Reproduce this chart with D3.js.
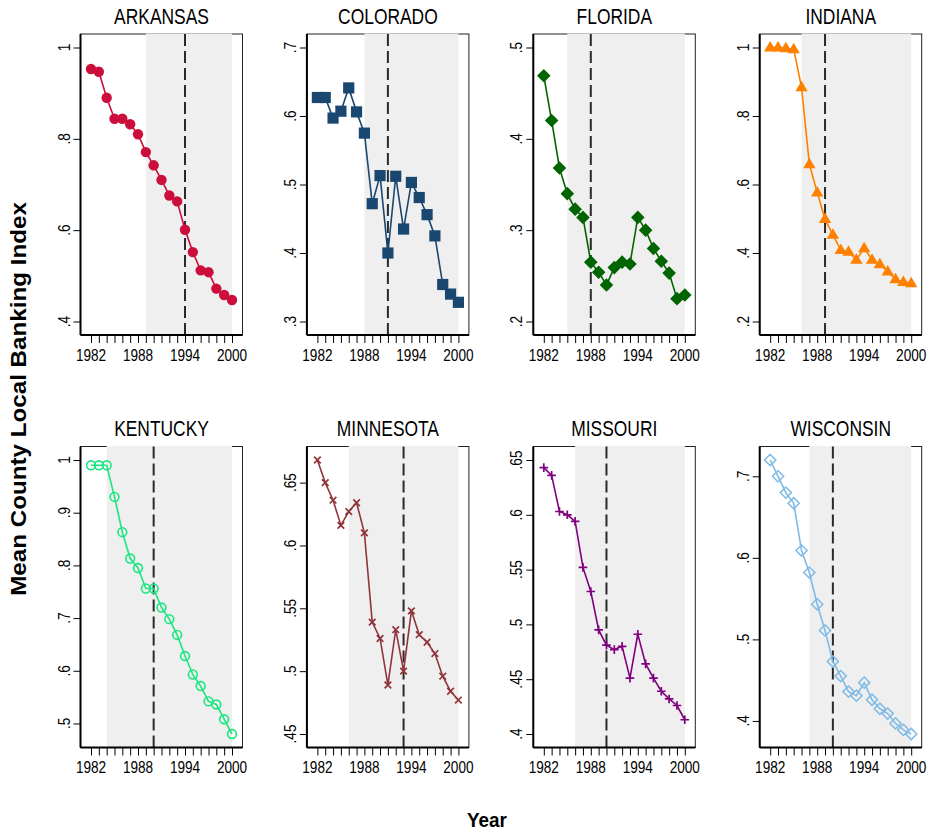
<!DOCTYPE html>
<html><head><meta charset="utf-8">
<script src="https://cdn.jsdelivr.net/npm/d3@7"></script>
<style>body{margin:0;background:#fff;} text{font-family:"Liberation Sans",Arial,sans-serif;}</style>
</head><body>
<svg id="chart" width="927" height="832"></svg>
<script>
const years = d3.range(1982, 2001);
const states = ["ARKANSAS","COLORADO","FLORIDA","INDIANA","KENTUCKY","MINNESOTA","MISSOURI","WISCONSIN"];
const arkansas  = [.953,.947,.890,.844,.844,.832,.810,.771,.742,.710,.676,.663,.601,.552,.512,.508,.472,.458,.447];
const colorado  = [.627,.627,.597,.607,.641,.606,.575,.472,.513,.400,.512,.435,.503,.481,.456,.425,.354,.340,.328];
const florida   = [.469,.420,.368,.340,.323,.314,.265,.254,.240,.259,.265,.263,.314,.300,.280,.266,.253,.225,.229];
const indiana   = [1.0,1.0,.998,.995,.884,.659,.577,.499,.453,.409,.404,.380,.414,.380,.367,.346,.323,.315,.312];
const kentucky  = [.990,.990,.990,.930,.863,.813,.795,.756,.756,.720,.698,.668,.628,.593,.571,.542,.536,.508,.480];
const minnesota = [.668,.650,.636,.616,.627,.634,.610,.539,.526,.489,.533,.500,.548,.529,.523,.514,.496,.484,.477];
const missouri  = [.643,.636,.603,.600,.594,.552,.530,.495,.481,.477,.480,.451,.491,.464,.451,.439,.432,.426,.413];
const wisconsin = [.720,.700,.680,.667,.609,.582,.543,.511,.473,.455,.436,.431,.447,.426,.415,.409,.397,.389,.384];
const yTicks = [[.4,.6,.8,1],[.3,.4,.5,.6,.7],[.2,.3,.4,.5],[.2,.4,.6,.8,1],
                [.5,.6,.7,.8,.9,1],[.45,.5,.55,.6,.65],[.4,.45,.5,.55,.6,.65],[.4,.5,.6,.7]];
const shadeStart = [1989,1988,1985,1986,1984,1986,1986,1987];
const policyYear = [1994,1991,1988,1989,1990,1993,1990,1990];
const xTickLabels = [1982,1988,1994,2000];
const colors = ["#cc0e3d","#1a476f","#006400","#ff8000","#1ce680","#90353b","#800080","#7fbbe6"];
const markers = ["circle","square","diamond","triangle","ocircle","x","plus","odiamond"];
const series = [arkansas,colorado,florida,indiana,kentucky,minnesota,missouri,wisconsin];

const svg = d3.select("#chart");
const NX = 0.8; // narrow font factor
const colX0 = 91, colStep = 226.4, dataW = 141, padX = 10.5;
const rowY0 = [47.5, 460], dataH = 274, padY = 13.5;

function fmt(v){ let s = d3.format("")(+v.toFixed(2)); return s.replace(/^0\./,"."); }

function markerPath(type, x, y){
  switch(type){
    case "square": { const s=5.6; return `M${x-s},${y-s}h${2*s}v${2*s}h${-2*s}Z`; }
    case "diamond": { const s=6.8; return `M${x},${y-s}L${x+s},${y}L${x},${y+s}L${x-s},${y}Z`; }
    case "odiamond": { const s=5.6; return `M${x},${y-s}L${x+s},${y}L${x},${y+s}L${x-s},${y}Z`; }
    case "triangle": { const w=6.2; return `M${x},${y-6.5}L${x+w},${y+4}L${x-w},${y+4}Z`; }
    case "x": { const s=3.3; return `M${x-s},${y-s}L${x+s},${y+s}M${x-s},${y+s}L${x+s},${y-s}`; }
    case "plus": { const s=4.3; return `M${x-s},${y}L${x+s},${y}M${x},${y-s}L${x},${y+s}`; }
  }
  return null;
}

states.forEach((name, i) => {
  const col = i % 4, row = Math.floor(i / 4);
  const x0 = colX0 + col * colStep, y0 = rowY0[row];
  const vals = series[i];
  const ticks = yTicks[i];
  const lo = Math.min(d3.min(vals), d3.min(ticks)), hi = Math.max(d3.max(vals), d3.max(ticks));
  const x = d3.scaleLinear().domain([1982, 2000]).range([x0, x0 + dataW]);
  const y = d3.scaleLinear().domain([lo, hi]).range([y0 + dataH, y0]);
  const fx0 = x0 - padX, fx1 = x0 + dataW + padX, fy0 = y0 - padY, fy1 = y0 + dataH + padY;
  const g = svg.append("g");

  g.append("rect").attr("x", fx0).attr("y", fy0).attr("width", fx1 - fx0).attr("height", fy1 - fy0)
    .attr("fill", "none").attr("stroke", "#222").attr("stroke-width", 1);
  g.append("rect").attr("x", x(shadeStart[i])).attr("y", fy0 - 0.5)
    .attr("width", x(2000) - x(shadeStart[i])).attr("height", fy1 - fy0)
    .attr("fill", "#efefef");
  g.append("line").attr("x1", x(policyYear[i])).attr("x2", x(policyYear[i]))
    .attr("y1", fy0).attr("y2", fy1).attr("stroke", "#2a2a2a").attr("stroke-width", 2)
    .attr("stroke-dasharray", "12,5");

  const xAxis = d3.axisBottom(x).tickValues(years).tickSize(8).tickFormat("");
  const xa = g.append("g").attr("transform", `translate(0,${fy1})`).call(xAxis);
  xa.select(".domain").attr("d", `M${fx0},0H${fx1}`).attr("stroke", "#000").attr("stroke-width", 2);
  xa.selectAll(".tick line").attr("stroke", "#000").attr("stroke-width", 1);
  g.selectAll(".xlab").data(xTickLabels).enter().append("text")
    .attr("transform", d => `translate(${x(d)},${fy1 + 25.5}) scale(${NX},1)`)
    .attr("text-anchor", "middle").attr("font-size", 17).attr("fill", "#000").text(d => d);

  const yAxis = d3.axisLeft(y).tickValues(ticks).tickSize(7).tickFormat("");
  const ya = g.append("g").attr("transform", `translate(${fx0},0)`).call(yAxis);
  ya.select(".domain").attr("d", `M0,${fy0}V${fy1}`).attr("stroke", "#000").attr("stroke-width", 2);
  ya.selectAll(".tick line").attr("stroke", "#000").attr("stroke-width", 1);
  g.selectAll(".ylab").data(ticks).enter().append("text")
    .attr("transform", d => `translate(${fx0 - 11},${y(d)}) rotate(-90) scale(${NX},1)`)
    .attr("text-anchor", "middle").attr("font-size", 17).attr("fill", "#000").text(d => fmt(d));

  g.append("text").attr("transform", `translate(${(fx0 + fx1) / 2},${fy0 - 10.5}) scale(0.81,1)`)
    .attr("text-anchor", "middle").attr("font-size", 21.5).attr("fill", "#000").text(name);

  const pts = years.map((yr, k) => [yr, vals[k]]);
  g.append("path").datum(pts)
    .attr("d", d3.line().x(d => x(d[0])).y(d => y(d[1])))
    .attr("fill", "none").attr("stroke", colors[i]).attr("stroke-width", 1.6);

  const m = markers[i], c = colors[i];
  pts.forEach(d => {
    const px = x(d[0]), py = y(d[1]);
    if (m === "circle") {
      g.append("circle").attr("cx", px).attr("cy", py).attr("r", 5.2).attr("fill", c);
    } else if (m === "ocircle") {
      g.append("circle").attr("cx", px).attr("cy", py).attr("r", 4.4).attr("fill", "none")
        .attr("stroke", c).attr("stroke-width", 1.6);
    } else if (m === "odiamond") {
      g.append("path").attr("d", markerPath(m, px, py)).attr("fill", "none").attr("stroke", c).attr("stroke-width", 1.5);
    } else if (m === "x" || m === "plus") {
      g.append("path").attr("d", markerPath(m, px, py)).attr("fill", "none").attr("stroke", c).attr("stroke-width", 1.7);
    } else {
      g.append("path").attr("d", markerPath(m, px, py)).attr("fill", c);
    }
  });
});

svg.append("text").attr("transform", "translate(26,399) rotate(-90) scale(1.1,1)")
  .attr("text-anchor", "middle").attr("font-size", 22).attr("font-weight", "bold").attr("fill", "#000")
  .text("Mean County Local Banking Index");
svg.append("text").attr("transform", "translate(487,827) scale(0.9,1)")
  .attr("text-anchor", "middle").attr("font-size", 21).attr("font-weight", "bold").attr("fill", "#000")
  .text("Year");
</script>
</body></html>
